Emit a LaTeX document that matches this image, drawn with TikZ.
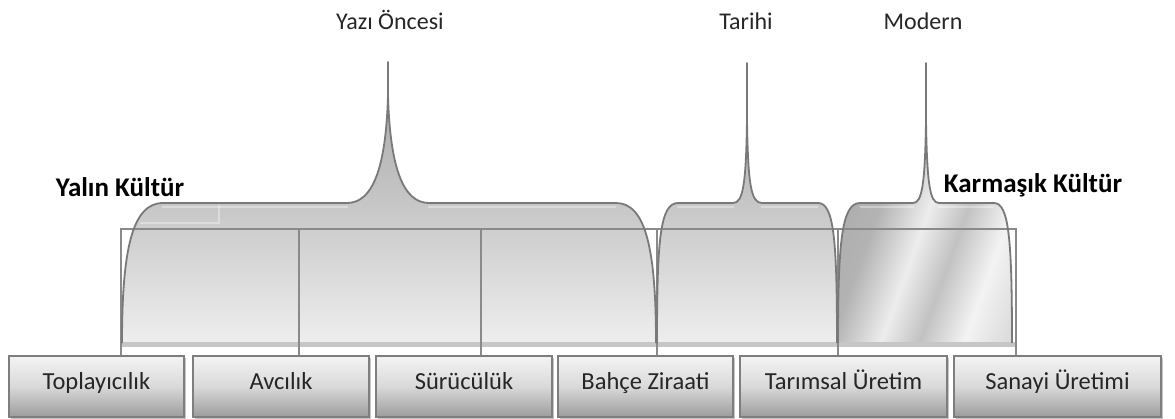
\documentclass[tikz,border=0pt]{standalone}
\usepackage{fontspec}
\setmainfont{Carlito}
\usetikzlibrary{shadows}
\definecolor{edge}{HTML}{797979}
\definecolor{framec}{HTML}{8A8A8A}
\definecolor{barc}{HTML}{C6C6C6}
\definecolor{txt}{HTML}{262626}
\definecolor{boxedge}{HTML}{7E7E7E}
\definecolor{ba}{HTML}{9C9C9C}
\definecolor{bb}{HTML}{D9D9D9}
\definecolor{bc}{HTML}{F4F4F4}
\definecolor{ma}{HTML}{A6A6A6}
\definecolor{mb}{HTML}{B3B3B3}
\definecolor{mc}{HTML}{EDEDED}
\definecolor{md}{HTML}{C2C2C2}
\definecolor{me}{HTML}{F3F3F3}
\definecolor{mf}{HTML}{D8D8D8}
\definecolor{fa}{HTML}{A4A4A4}
\definecolor{fb}{HTML}{C6C6C6}
\definecolor{fc}{HTML}{EEEEEE}
\pgfdeclareverticalshading{boxsh}{100bp}{color(0bp)=(ba); color(25bp)=(ba); color(50bp)=(bb); color(75bp)=(bc); color(100bp)=(bc)}
\pgfdeclareverticalshading{brsh}{100bp}{color(0bp)=(fc); color(25bp)=(fc); color(50bp)=(fb); color(75bp)=(fa); color(100bp)=(fa)}
\pgfdeclarehorizontalshading{metal}{100bp}{color(0bp)=(ma); color(25bp)=(ma); color(42bp)=(mb); color(51bp)=(mc); color(58bp)=(md); color(66bp)=(me); color(75bp)=(mf); color(100bp)=(mf)}
\begin{document}
\begin{tikzpicture}[x=1pt,y=-1pt,
  edgeline/.style={draw=edge, line width=1.8pt, line join=round},
  framel/.style={draw=framec, line width=1.8pt},
  stagebox/.style={draw=boxedge, line width=1.6pt, shade, shading=boxsh, minimum height=61pt, inner sep=0pt,
    text height=16pt, text depth=11pt, font=\fontsize{24.5}{29}\selectfont, text=txt,
    drop shadow={shadow xshift=2pt, shadow yshift=-2pt, fill=gray!45, opacity=1}},
  toplab/.style={font=\fontsize{24}{29}\selectfont, text=txt, inner sep=0pt, anchor=base},
  sidelab/.style={font=\fontsize{27}{31}\selectfont\bfseries, text=black, inner sep=0pt, anchor=base},
  hl/.style={draw=white, opacity=0.35, line width=1.2pt}]
\useasboundingbox (0,0) rectangle (1175,418);

% stage boxes
\node[stagebox, minimum width=175pt] (b1) at (96.5,386.5) {Toplayıcılık};
\node[stagebox, minimum width=176pt] (b2) at (281,386.5) {Avcılık};
\node[stagebox, minimum width=176pt] (b3) at (464,386.5) {Sürücülük};
\node[stagebox, minimum width=175pt] (b4) at (645.5,386.5) {Bahçe Ziraati};
\node[stagebox, minimum width=207pt] (b5) at (843.5,386.5) {Tarımsal Üretim};
\node[stagebox, minimum width=207pt] (b6) at (1057.5,386.5) {Sanayi Üretimi};

% bracket paths
\path[save path=\pA] (122,343) .. controls (122,250) and (132,203) .. (163,203) -- (347,203)
  .. controls (372,203) and (386,170) .. (388,95) -- (388,62) -- (388,95)
  .. controls (390,170) and (404,203) .. (429,203) -- (616,203)
  .. controls (646,203) and (656,250) .. (656,343);
\path[save path=\pB] (657,343) .. controls (657,240) and (660,203) .. (678,203) -- (733,203)
  .. controls (743,203) and (746,185) .. (747,120) -- (747,63) -- (747,120)
  .. controls (748,185) and (751,203) .. (762,203) -- (818,203)
  .. controls (834,203) and (837,240) .. (837,343);
\path[save path=\pC] (838,343) .. controls (838,240) and (842,203) .. (860,203) -- (913,203)
  .. controls (922,203) and (925,185) .. (926,120) -- (926,63) -- (926,120)
  .. controls (927,185) and (930,203) .. (939,203) -- (994,203)
  .. controls (1009,203) and (1012,240) .. (1012,343);

\begin{scope}
  \path[clip, use path=\pA];
  \shade[shading=brsh] (110,62) rectangle (670,343);
\end{scope}
\begin{scope}
  \path[clip, use path=\pB];
  \shade[shading=brsh] (650,62) rectangle (845,343);
\end{scope}
\begin{scope}
  \path[clip, use path=\pC];
  \shade[shading=metal, shading angle=-20] (800,60) rectangle (1050,350);
\end{scope}

% highlights
\draw[hl] (162,207) -- (348,207);
\draw[hl] (428,207) -- (616,207);
\draw[hl] (140,223) -- (219,223) -- (219,205);
\draw[hl] (677,207) -- (734,207);
\draw[hl] (761,207) -- (818,207);
\draw[hl] (860,207) -- (914,207);
\draw[hl] (938,207) -- (994,207);

% base bar
\fill[barc] (122,342) rectangle (1016,347);

% frame and connectors
\coordinate (t1) at (121,229);
\coordinate (t2) at (299,229);
\coordinate (t3) at (481,229);
\coordinate (t4) at (657,229);
\coordinate (t5) at (838,229);
\coordinate (t6) at (1016,229);
\draw[framel, line cap=rect] (t1) -- (t6);
\draw[framel] (t1) -- (t1 |- b1.north);
\draw[framel] (t2) -- (t2 |- b2.north);
\draw[framel] (t3) -- (t3 |- b3.north);
\draw[framel] (t4) -- (t4 |- b4.north);
\draw[framel] (t5) -- (t5 |- b5.north);
\draw[framel] (t6) -- (t6 |- b6.north);

% bracket outlines
\draw[edgeline, use path=\pA];
\draw[edgeline, use path=\pB];
\draw[edgeline, use path=\pC];

% labels
\node[toplab] (l1) at (390,29) {Yazı Öncesi};
\node[toplab] (l2) at (746,29) {Tarihi};
\node[toplab] (l3) at (923,29) {Modern};
\node[sidelab] (s1) at (120,196) {Yalın Kültür};
\node[sidelab] (s2) at (1033,192) {Karmaşık Kültür};
\end{tikzpicture}
\end{document}
